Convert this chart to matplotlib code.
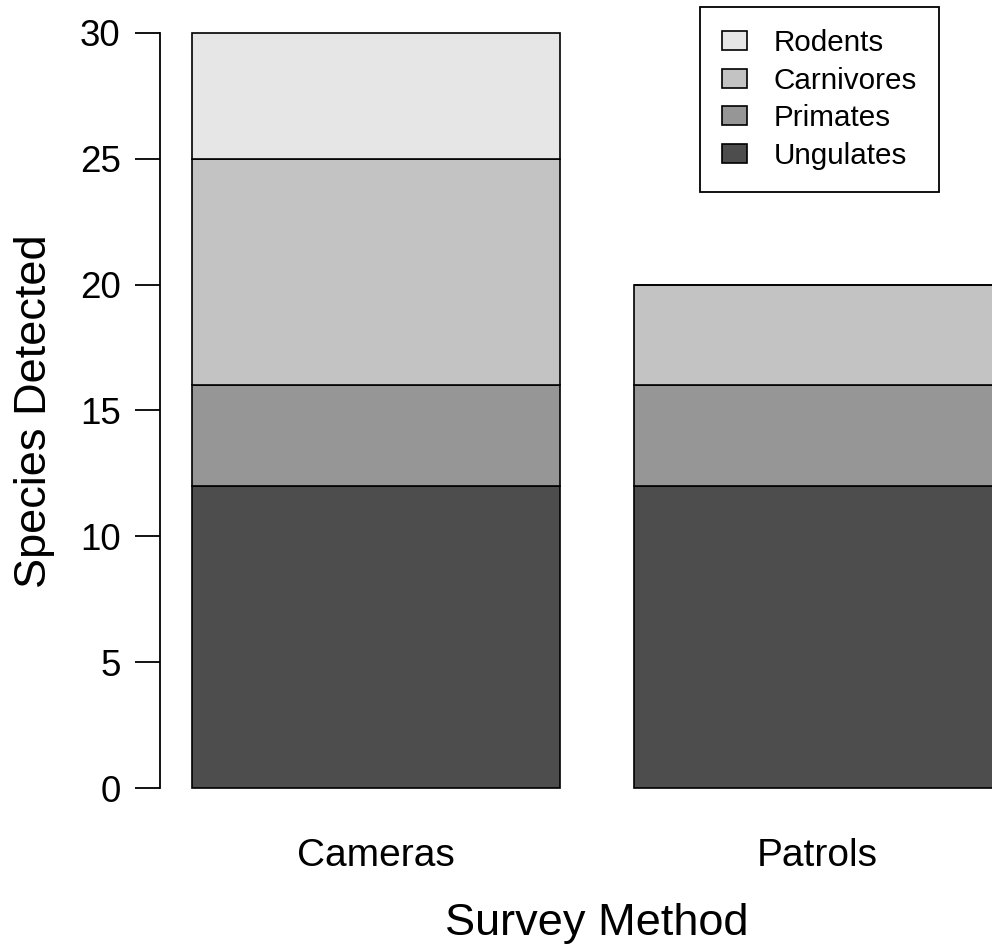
import matplotlib
matplotlib.use("Agg")
import matplotlib.pyplot as plt
from matplotlib.patches import Patch
import numpy as np

plt.rcParams['font.family'] = ['Liberation Sans', 'DejaVu Sans']

methods = ["Cameras", "Patrols"]
groups = ["Ungulates", "Primates", "Carnivores", "Rodents"]
ungulates = [12, 12]
primates = [4, 4]
carnivores = [9, 4]
rodents = [5, 0]
colors = ["#4D4D4D", "#969696", "#C3C3C3", "#E6E6E6"]
yticks = [0, 5, 10, 15, 20, 25, 30]

W, H = 992, 949
fig = plt.figure(figsize=(W / 100, H / 100), dpi=100)
# plot region in pixels (R style, extends past right edge)
left_px, right_px, top_px, bottom_px = 159.6, 1034.0, 2.8, 818.2
ax = fig.add_axes([left_px / W, 1 - bottom_px / H,
                   (right_px - left_px) / W, (bottom_px - top_px) / H])

x = np.array([0.7, 1.9])
bottom = np.zeros(2)
series = [ungulates, primates, carnivores, rodents]
for vals, col, name in zip(series, colors, groups):
    v = np.array(vals, dtype=float)
    ax.bar(x, v, width=1.0, bottom=bottom, color=col, edgecolor="black",
           linewidth=1.2, label=name)
    bottom += v

ax.set_xlim(0.112, 2.488)
ax.set_ylim(-1.2, 31.2)

for s in ["top", "right", "bottom"]:
    ax.spines[s].set_visible(False)
ax.spines["left"].set_bounds(0, 30)
ax.spines["left"].set_linewidth(1.3)
ax.set_yticks(yticks)
ax.set_yticklabels([str(t) for t in yticks])
ax.tick_params(axis="y", length=18, width=1.3, pad=10, labelsize=26.5)
ax.set_xticks(x)
ax.set_xticklabels(methods)
ax.tick_params(axis="x", length=0, pad=14, labelsize=28)

fig.text(35 / W, 1 - 411 / H, "Species Detected", rotation=90, fontsize=32.5,
         ha="center", va="center")
fig.text(597 / W, 1 - 923 / H, "Survey Method", fontsize=32.5,
         ha="center", va="center")

handles = [Patch(facecolor=c, edgecolor="black", linewidth=1.2, label=g)
           for g, c in zip(groups, colors)][::-1]
leg = fig.legend(handles=handles, loc="upper left",
                 bbox_to_anchor=(700 / W, 1 - 7 / H), borderaxespad=0,
                 fontsize=21.3, frameon=True, fancybox=False, framealpha=1,
                 edgecolor="black", handlelength=0.84, handleheight=0.61,
                 handletextpad=0.9, labelspacing=0.32, borderpad=0.75)
leg.get_frame().set_linewidth(1.3)

fig.savefig("out.png", dpi=100)
